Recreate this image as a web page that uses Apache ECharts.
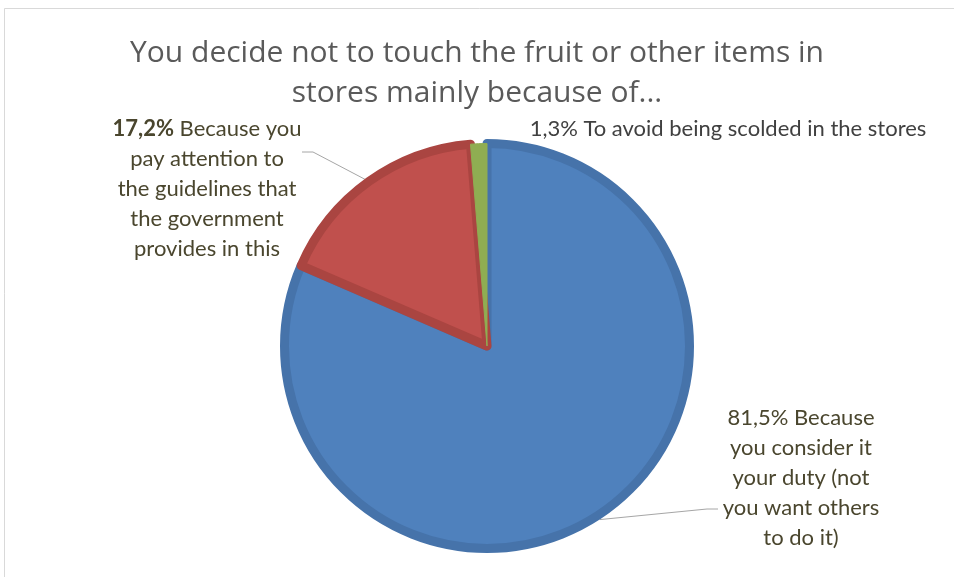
<!DOCTYPE html>
<html>
<head>
<meta charset="utf-8">
<script src="https://cdn.jsdelivr.net/npm/echarts@6/dist/echarts.min.js"></script>
<style>
  html, body { margin: 0; padding: 0; background: #ffffff; }
  #chart { width: 954px; height: 577px; }
</style>
</head>
<body>
<div id="chart"></div>
<script>
// Survey answers (label text wrapped as it is shown next to the pie)
const categories = [
  'Because\nyou consider it\nyour duty (not\nyou want others\nto do it)',
  'Because you\npay attention to\nthe guidelines that\nthe government\nprovides in this',
  'To avoid being scolded in the stores'
];
const shares = [81.5, 17.2, 1.3];
const titleText = 'You decide not to touch the fruit or other items in\nstores mainly because of...';

const fills = ['#4F81BD', '#C0504D', '#8FAD52'];
const edges = ['#4673AA', '#AA4541', '#8FAD52'];
const edgeWidths = [9, 9, 1];

const FONT = 'Lato, "Open Sans", sans-serif';
const TITLE_FONT = '"Open Sans", Lato, sans-serif';
const CX = 487, CY = 346, R = 207;

function pct(v) { return v.toFixed(1).replace('.', ',') + '%'; }

const chart = echarts.init(document.getElementById('chart'), null, { renderer: 'canvas' });

chart.setOption({
  backgroundColor: '#ffffff',
  animation: false,
  title: {
    text: titleText,
    left: 'center',
    top: 28,
    textStyle: {
      fontFamily: TITLE_FONT,
      fontSize: 30,
      fontWeight: 'normal',
      color: '#5a5a5a',
      lineHeight: 40
    }
  },
  graphic: [{
    type: 'rect',
    shape: { x: 4.5, y: 8.5, width: 960, height: 620 },
    style: { fill: 'none', stroke: '#d9d9d9', lineWidth: 1 },
    silent: true,
    z: -1
  }],
  series: [{
    type: 'pie',
    center: [CX, CY],
    radius: [0, R - 4.5],
    startAngle: 90,
    clockwise: true,
    data: shares.map((v, i) => ({
      value: v,
      name: categories[i],
      itemStyle: { color: fills[i], borderColor: edges[i], borderWidth: edgeWidths[i] },
      labelLine: { show: i !== 2 },
      label: i === 2 ? { color: '#404040' } : {}
    })),
    label: {
      show: true,
      fontFamily: FONT,
      fontSize: 22,
      lineHeight: 30,
      color: '#4A462E',
      align: 'center',
      overflow: 'none',
      formatter: function (p) {
        if (p.dataIndex === 1) return '{b|' + pct(p.value) + '} ' + p.name;
        return pct(p.value) + ' ' + p.name;
      },
      rich: {
        b: { fontFamily: FONT, fontSize: 22, fontWeight: 'bold', color: '#4A462E', lineHeight: 30 }
      }
    },
    labelLine: {
      show: true,
      lineStyle: { color: '#A6A6A6', width: 1 }
    },
    labelLayout: function (params) {
      const i = params.dataIndex;
      if (i === 0) {
        const a = 147 * Math.PI / 180;
        const p0 = [CX + R * Math.sin(a), CY - R * Math.cos(a)];
        return {
          x: 801, y: 403, align: 'center', verticalAlign: 'top',
          labelLinePoints: [p0, [707, 509], [718, 509]]
        };
      }
      if (i === 1) {
        return {
          x: 207, y: 114, align: 'center', verticalAlign: 'top',
          labelLinePoints: [params.labelLinePoints[0], [313, 152], [302, 152]]
        };
      }
      return { x: 728, y: 114, align: 'center', verticalAlign: 'top' };
    },
    emphasis: { disabled: true }
  }]
});
</script>
</body>
</html>
